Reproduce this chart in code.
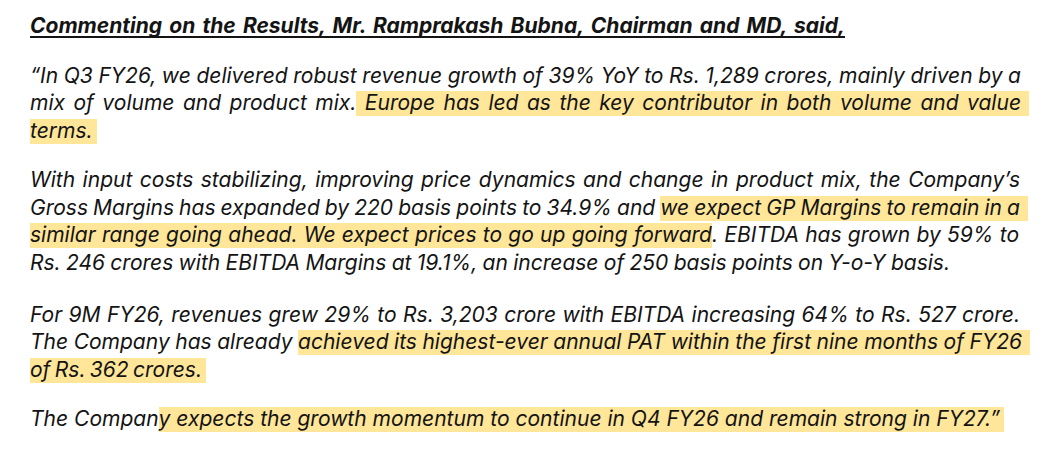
<!DOCTYPE html>
<html>
<head>
<meta charset="utf-8">
<script src="https://cdn.jsdelivr.net/npm/chart.js"></script>
<style>
  html, body { margin: 0; padding: 0; background: #fff; }
  body { width: 1060px; height: 453px; position: relative; overflow: hidden; }
  .line {
    position: absolute; left: 30px; white-space: pre;
    font-family: 'Inter', 'Noto Sans', sans-serif; font-style: italic;
    color: #141414; line-height: 24px;
  }
  .line.heading {
    font-weight: bold; text-decoration: underline; text-decoration-thickness: 1.5px;
    text-underline-offset: 3px; text-decoration-skip-ink: none;
  }
  .hl { background: #ffe699; display: inline-block; line-height: 24px; padding-bottom: 1px; }
  .probe { display: inline-block; width: 0; height: 0; vertical-align: baseline; }
</style>
</head>
<body>
<script>
// text of the page, line by line; second item marks highlighted runs
const heading = 'Commenting on the Results, Mr. Ramprakash Bubna, Chairman and MD, said,';

const para1 = [
  [['“In Q3 FY26, we delivered robust revenue growth of 39% YoY to Rs. 1,289 crores, mainly driven by a', 0]],
  [['mix of volume and product mix.', 0], [' Europe has led as the key contributor in both volume and value', 1]],
  [['terms.', 1]]
];

const para2 = [
  [['With input costs stabilizing, improving price dynamics and change in product mix, the Company’s', 0]],
  [['Gross Margins has expanded by 220 basis points to 34.9% and ', 0], ['we expect GP Margins to remain in a', 1]],
  [['similar range going ahead. We expect prices to go up going forward', 1], ['. EBITDA has grown by 59% to', 0]],
  [['Rs. 246 crores with EBITDA Margins at 19.1%, an increase of 250 basis points on Y-o-Y basis.', 0]]
];

const para3 = [
  [['For 9M FY26, revenues grew 29% to Rs. 3,203 crore with EBITDA increasing 64% to Rs. 527 crore.', 0]],
  [['The Company has already ', 0], ['achieved its highest-ever annual PAT within the first nine months of FY26', 1]],
  [['of Rs. 362 crores.', 1]]
];

const para4 = [
  [['The Compan', 0], ['y expects the growth momentum to continue in Q4 FY26 and remain strong in FY27.”', 1]]
];

// layout: baseline y and right edge of each line
const baselines = [33, 82.5, 110, 137.5, 187, 214.5, 242, 269.5, 321.5, 349, 376.5, 426];
const rightEdges = [845, 1021, 1021, 93, 1020, 1020, 1019, 950, 1020, 1022, 202, 1000];

function makeLine(segments, cls, fontSize) {
  const div = document.createElement('div');
  div.className = 'line' + (cls ? ' ' + cls : '');
  div.style.fontSize = fontSize + 'px';
  const probe = document.createElement('span');
  probe.className = 'probe';
  div.appendChild(probe);
  segments.forEach(seg => {
    const s = document.createElement('span');
    s.textContent = seg[0];
    if (seg[1]) s.className = 'hl';
    div.appendChild(s);
  });
  document.body.appendChild(div);
  return div;
}

document.addEventListener('DOMContentLoaded', function() {
  // fit the font size on the last (unjustified) line
  const test = makeLine(para4[0], '', 20);
  const natural = test.getBoundingClientRect().width;
  const fontSize = 20 * (1000 - 30) / natural;
  test.remove();

  const allLines = [[[heading, 0]]].concat(para1, para2, para3, para4);
  const paraEnds = [0, 3, 7, 10, 11];

  allLines.forEach((segments, i) => {
    const div = makeLine(segments, i === 0 ? 'heading' : '', fontSize);
    const w = div.getBoundingClientRect().width;
    const text = segments.map(s => s[0]).join('');
    const spaces = (text.match(/ /g) || []).length;
    const target = rightEdges[i] - 30;
    if (spaces > 0) {
      div.style.wordSpacing = ((target - w) / spaces) + 'px';
    }
    // highlight runs past the last glyph
    const last = div.lastChild;
    if (last.className === 'hl') {
      last.style.paddingRight = (paraEnds.includes(i) ? 4 : 8) + 'px';
    }
    const probe = div.querySelector('.probe');
    const offset = probe.getBoundingClientRect().top - div.getBoundingClientRect().top;
    div.style.top = (baselines[i] - offset) + 'px';
  });
});
</script>
</body>
</html>
